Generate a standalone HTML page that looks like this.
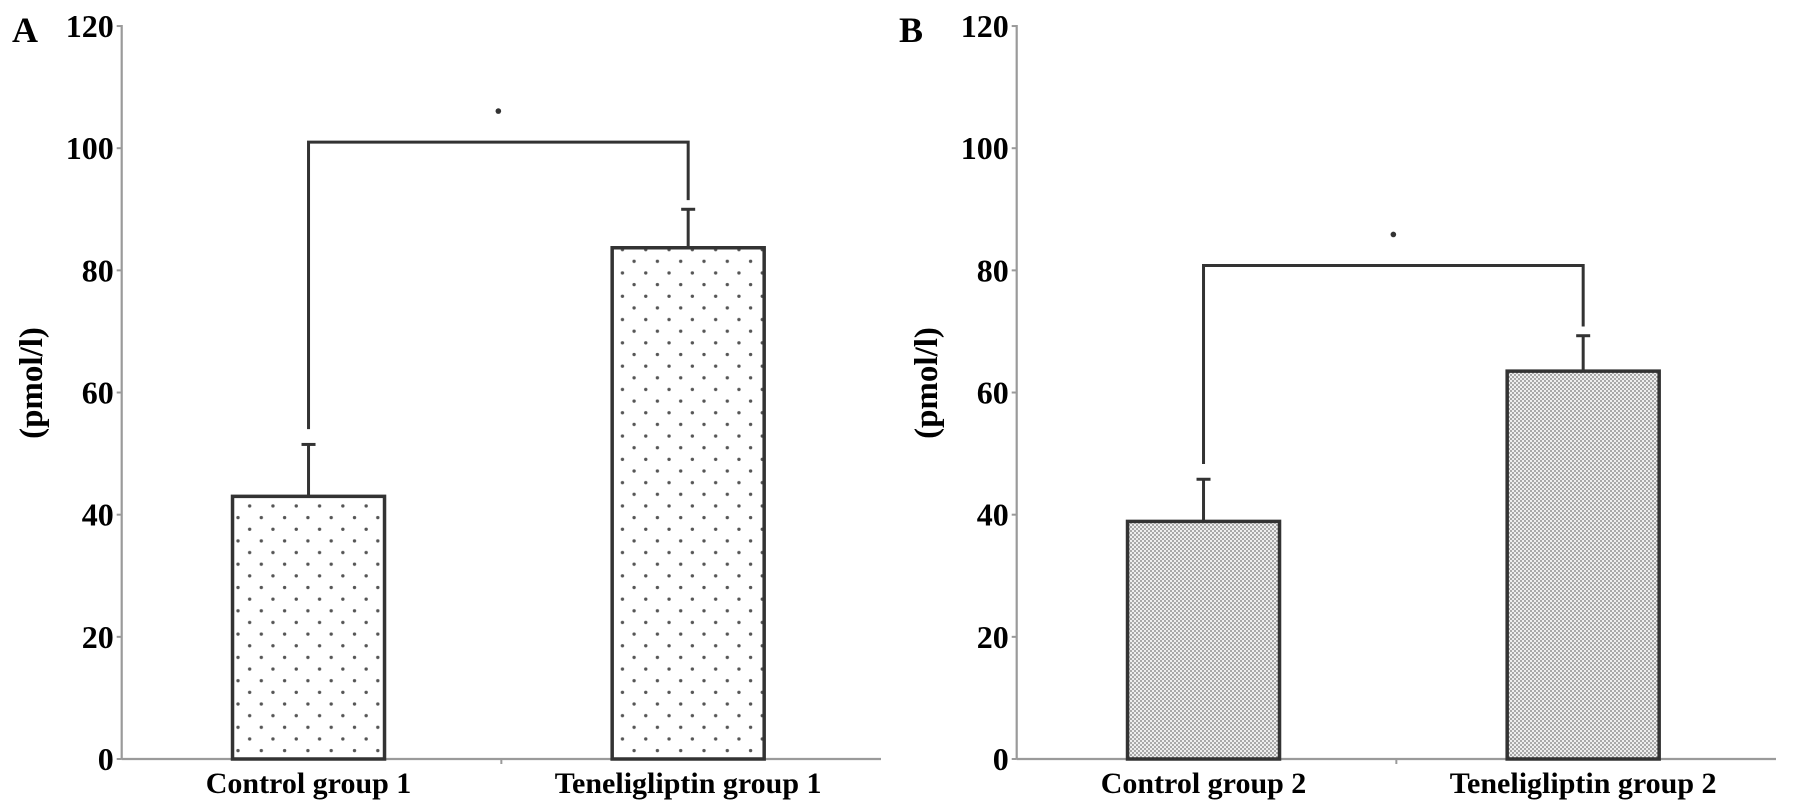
<!DOCTYPE html>
<html><head><meta charset="utf-8"><style>
html,body{margin:0;padding:0;background:#fff;}
svg{display:block;font-family:"Liberation Serif",serif;font-weight:bold;}
</style></head><body>
<svg id="chart" width="1795" height="811" viewBox="0 0 1795 811">
<defs>
<pattern id="dotsA" width="23.3" height="23.3" patternUnits="userSpaceOnUse">
<circle cx="5" cy="5" r="1.7" fill="#555"/><circle cx="16.65" cy="16.65" r="1.7" fill="#555"/>
</pattern>
<pattern id="dotsB" width="4" height="4" patternUnits="userSpaceOnUse">
<rect width="4" height="4" fill="#eeeeee"/><circle cx="1" cy="1" r="0.9" fill="#777"/><circle cx="3" cy="3" r="0.9" fill="#777"/>
</pattern>
</defs>
</svg>
<script>
const categoriesA = ["Control group 1", "Teneligliptin group 1"];
const valuesA = [43, 83.7];
const errorsA = [8.5, 6.3];
const categoriesB = ["Control group 2", "Teneligliptin group 2"];
const valuesB = [38.9, 63.5];
const errorsB = [6.9, 5.8];
const yTicks = [0, 20, 40, 60, 80, 100, 120];
const sigA = 101;
const sigB = 80.8;

const NS = "http://www.w3.org/2000/svg";
const svg = document.getElementById("chart");
function mk(tag, attrs, parent, text) {
  const e = document.createElementNS(NS, tag);
  for (const k in attrs) e.setAttribute(k, attrs[k]);
  if (text !== undefined) e.textContent = text;
  (parent || svg).appendChild(e);
  return e;
}
function y(v) { return 759 - v * 6.108; }

function panel(ox, letter, cats, vals, errs, sig, fill, letterX) {
  const g = mk("g", {});
  
  
  const axX = ox + 121.7;
  const lt = mk("text", {x: letterX, y: 42, "font-size": 36}, g, letter);
  
  
  const ya = mk("line", {x1: axX, y1: y(120) - 1, x2: axX, y2: y(0), stroke: "#9a9a9a", "stroke-width": 2.2}, g);
  
  
  yTicks.forEach(t => {
    const tk = mk("line", {x1: axX - 5, y1: y(t), x2: axX, y2: y(t), stroke: "#9a9a9a", "stroke-width": 2}, g);
    
    
    const tl = mk("text", {x: axX - 8, y: y(t) + 11, "font-size": 32, "text-anchor": "end"}, g, String(t));
    
    
  });
  const yt = mk("text", {x: 0, y: 0, "font-size": 33, "text-anchor": "middle", transform: `translate(${ox + 42},383) rotate(-90)`}, g, "(pmol/l)");
  
  
  const xEnd = ox + 881;
  const xa = mk("line", {x1: axX, y1: y(0), x2: xEnd, y2: y(0), stroke: "#9a9a9a", "stroke-width": 2.2}, g);
  
  
  const band = (xEnd - axX) / cats.length;
  const mt = mk("line", {x1: axX + band, y1: y(0), x2: axX + band, y2: y(0) + 5, stroke: "#9a9a9a", "stroke-width": 2}, g);
  
  
  const bw = 152;
  const centers = [];
  cats.forEach((c, i) => {
    const cx = axX + band * (i + 0.5) - 3;
    centers.push(cx);
    const top = y(vals[i]);
    const r = mk("rect", {x: cx - bw / 2, y: top, width: bw, height: y(0) - top, fill: fill, stroke: "#333", "stroke-width": 3.5}, g);
    
    
    const eTop = y(vals[i] + errs[i]);
    const el = mk("line", {x1: cx, y1: top, x2: cx, y2: eTop, stroke: "#333", "stroke-width": 3}, g);
    
    
    const ec = mk("line", {x1: cx - 7, y1: eTop, x2: cx + 7, y2: eTop, stroke: "#333", "stroke-width": 3}, g);
    
    
    const xl = mk("text", {x: cx, y: 793, "font-size": 30, "text-anchor": "middle"}, g, c);
    
    
  });
  const sy = y(sig);
  const l0 = y(vals[0] + errs[0] + 2.5), l1 = y(vals[1] + errs[1] + 1.5);
  const br = mk("path", {d: `M${centers[0]},${l0} L${centers[0]},${sy} L${centers[1]},${sy} L${centers[1]},${l1}`, fill: "none", stroke: "#333", "stroke-width": 3}, g);
  
  
  const st = mk("circle", {cx: (centers[0] + centers[1]) / 2, cy: sy - 31, r: 2.8, fill: "#333"}, g);
  
  
}
panel(0, "A", categoriesA, valuesA, errorsA, sigA, "url(#dotsA)", 12);
panel(895, "B", categoriesB, valuesB, errorsB, sigB, "url(#dotsB)", 899);
</script>
</body></html>
